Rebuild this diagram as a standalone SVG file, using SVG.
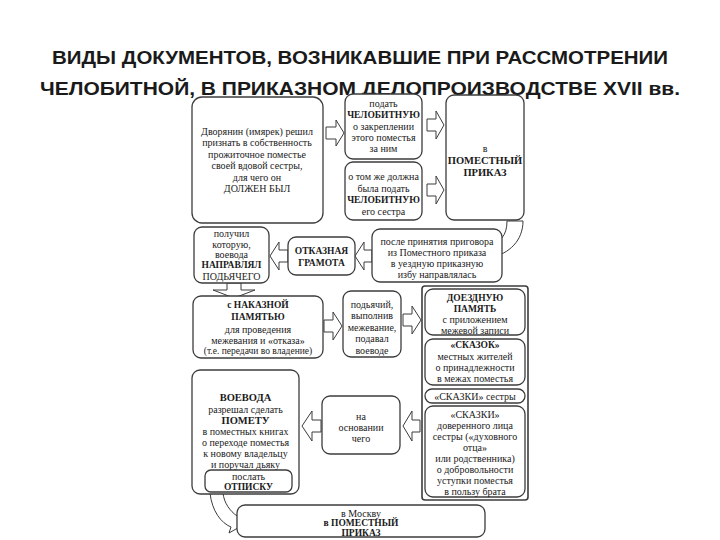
<svg xmlns="http://www.w3.org/2000/svg" width="720" height="540" viewBox="0 0 720 540">
<style>
.bg{fill:#fff}
.title{font-family:"Liberation Sans","DejaVu Sans",sans-serif;font-weight:bold;font-size:19px;fill:#1a1a1a;text-anchor:middle}
.b{fill:#fff;stroke:#3c3c3c;stroke-width:1.3}
.fr{fill:#fff;stroke:#3c3c3c;stroke-width:1.6}
.t{font-family:'Liberation Serif','DejaVu Serif',serif;font-size:10px;fill:#1a1a1a;text-anchor:middle;dominant-baseline:central}
.s{font-size:9.5px}
.k{font-weight:bold;font-size:9.5px}
.big{font-weight:bold;font-size:10.5px}
.ar{fill:#fff;stroke:#3c3c3c;stroke-width:1}
</style>
<rect class="bg" x="0" y="0" width="720" height="540"/>
<g id="title">
<text class="title" x="360" y="64" textLength="616" lengthAdjust="spacingAndGlyphs">ВИДЫ ДОКУМЕНТОВ, ВОЗНИКАВШИЕ ПРИ РАССМОТРЕНИИ</text>
<text class="title" x="360" y="95" textLength="640" lengthAdjust="spacingAndGlyphs">ЧЕЛОБИТНОЙ, В ПРИКАЗНОМ ДЕЛОПРОИЗВОДСТВЕ XVII вв.</text>
</g>
<g id="connectors">
<polygon class="ar" points="326,127 336,127 336,120 344,133 336,146 336,139 326,139"/>
<polygon class="ar" points="427,119 436,119 436,111 444,125 436,139 436,131 427,131"/>
<polygon class="ar" points="427,184 436,184 436,176 444,190 436,204 436,196 427,196"/>
<path class="ar" d="M507 221 C507 236 500 243 486 247 L488 240 L467 254 L490 265 L489 258 C510 254 523 240 523 221 Z"/>
<polygon class="ar" points="372,250 364,250 364,242 355,256 364,270 364,262 372,262"/>
<polygon class="ar" points="288,250 279,250 279,242 270,256 279,270 279,262 288,262"/>
<polygon class="ar" points="227,283 227,290 213,290 234,298 255,290 241,290 241,283"/>
<polygon class="ar" points="324,320 333,320 333,312 342,326 333,340 333,332 324,332"/>
<polygon class="ar" points="403,314 412,314 412,306 421,320 412,334 412,326 403,326"/>
<polygon class="ar" points="420,420 412,420 412,411 403,426 412,441 412,432 420,432"/>
<polygon class="ar" points="321,420 312,420 312,411 302,426 312,441 312,432 321,432"/>
<path class="ar" d="M210 493 C212 511 221 523 231 527 L229 533 L250 521 L239 510 L237 516 C230 511 224 503 223 493 Z"/>
</g>
<g font-family="Liberation Serif, DejaVu Serif, serif">
<g id="n-dvoryanin">
<rect class="b" x="192" y="97" width="131" height="126" rx="10"/>
<text class="t" x="257" y="131">Дворянин (имярек) решил</text>
<text class="t" x="257" y="142.5">признать в собственность</text>
<text class="t" x="257" y="154">прожиточное поместье</text>
<text class="t" x="257" y="165.5">своей вдовой сестры,</text>
<text class="t" x="257" y="177">для чего он</text>
<text class="t" x="257" y="188.5">ДОЛЖЕН БЫЛ</text>
</g>
<g id="n-podat">
<rect class="b" x="345" y="94" width="77" height="65" rx="8"/>
<text class="t" x="383.5" y="103">подать</text>
<text class="t k" x="383.5" y="114.5">ЧЕЛОБИТНУЮ</text>
<text class="t" x="383.5" y="126">о закреплении</text>
<text class="t" x="383.5" y="137">этого поместья</text>
<text class="t" x="383.5" y="148">за ним</text>
</g>
<g id="n-sestra">
<rect class="b" x="345" y="162" width="77" height="58" rx="8"/>
<text class="t" x="383.5" y="176">о том же должна</text>
<text class="t" x="383.5" y="188">была подать</text>
<text class="t k" x="383.5" y="199.5">ЧЕЛОБИТНУЮ</text>
<text class="t" x="383.5" y="211">его сестра</text>
</g>
<g id="n-prikaz">
<rect class="b" x="446" y="95" width="78" height="125" rx="8"/>
<text class="t" x="485" y="148">в</text>
<text class="t big" x="485" y="160">ПОМЕСТНЫЙ</text>
<text class="t big" x="485" y="172">ПРИКАЗ</text>
</g>
<g id="n-posle">
<rect class="b" x="372" y="229" width="130" height="53" rx="8"/>
<text class="t" x="437" y="241">после принятия приговора</text>
<text class="t" x="437" y="252">из Поместного приказа</text>
<text class="t" x="437" y="263">в уездную приказную</text>
<text class="t" x="437" y="274">избу направлялась</text>
</g>
<g id="n-gramota">
<rect class="b" x="288" y="237" width="67" height="38" rx="8"/>
<text class="t k" x="321.5" y="251">ОТКАЗНАЯ</text>
<text class="t k" x="321.5" y="263">ГРАМОТА</text>
</g>
<g id="n-poluchil">
<rect class="b" x="194" y="227" width="75" height="56" rx="8"/>
<text class="t" x="231.5" y="233.5">получил</text>
<text class="t" x="231.5" y="244">которую,</text>
<text class="t" x="231.5" y="254.5">воевода</text>
<text class="t k" x="231.5" y="265">НАПРАВЛЯЛ</text>
<text class="t" x="231.5" y="276">ПОДЬЯЧЕГО</text>
</g>
<g id="n-nakaznaya">
<rect class="b" x="193" y="296" width="130" height="62" rx="8"/>
<text class="t k" x="258" y="305">с НАКАЗНОЙ</text>
<text class="t k" x="258" y="317">ПАМЯТЬЮ</text>
<text class="t" x="258" y="329">для проведения</text>
<text class="t" x="258" y="340">межевания и «отказа»</text>
<text class="t s" x="258" y="351">(т.е. передачи во владение)</text>
</g>
<g id="n-podyachiy">
<rect class="b" x="343" y="291" width="58" height="66" rx="8"/>
<text class="t" x="372" y="304">подьячий,</text>
<text class="t" x="372" y="315.5">выполнив</text>
<text class="t" x="372" y="327">межевание,</text>
<text class="t" x="372" y="338.5">подавал</text>
<text class="t" x="372" y="350">воеводе</text>
</g>
<g id="n-docs">
<rect class="fr" x="422" y="286" width="106" height="214" rx="3"/>
<rect class="b" x="425" y="289" width="100" height="46" rx="8"/>
<text class="t k" x="475" y="297.5">ДОЕЗДНУЮ</text>
<text class="t k" x="475" y="308.5">ПАМЯТЬ</text>
<text class="t" x="475" y="319.5">с приложением</text>
<text class="t" x="475" y="330">межевой записи</text>
<rect class="b" x="425" y="339" width="100" height="46" rx="8"/>
<text class="t k" x="475" y="345">«СКАЗОК»</text>
<text class="t" x="475" y="356">местных жителей</text>
<text class="t" x="475" y="367">о принадлежности</text>
<text class="t" x="475" y="378">в межах поместья</text>
<rect class="b" x="425" y="389" width="100" height="14" rx="7"/>
<text class="t" x="475" y="396">«СКАЗКИ»  сестры</text>
<rect class="b" x="425" y="406" width="100" height="91" rx="8"/>
<text class="t" x="475" y="414">«СКАЗКИ»</text>
<text class="t" x="475" y="425">доверенного лица</text>
<text class="t" x="475" y="436">сестры  («духовного</text>
<text class="t" x="475" y="447">отца»</text>
<text class="t" x="475" y="458">или родственника)</text>
<text class="t" x="475" y="469">о добровольности</text>
<text class="t" x="475" y="480">уступки поместья</text>
<text class="t" x="475" y="491">в пользу брата</text>
</g>
<g id="n-osnovanie">
<rect class="b" x="322" y="396" width="78" height="58" rx="8"/>
<text class="t" x="361" y="416">на</text>
<text class="t" x="361" y="427">основании</text>
<text class="t" x="361" y="438">чего</text>
</g>
<g id="n-voevoda">
<rect class="b" x="192" y="370" width="107" height="124" rx="8"/>
<text class="t big" x="245.5" y="397">ВОЕВОДА</text>
<text class="t" x="245.5" y="409">разрешал сделать</text>
<text class="t big" x="245.5" y="420">ПОМЕТУ</text>
<text class="t" x="245.5" y="431.5">в поместных книгах</text>
<text class="t" x="245.5" y="442.5">о переходе поместья</text>
<text class="t" x="245.5" y="453.5">к новому владельцу</text>
<text class="t" x="245.5" y="464.5">и поручал дьяку</text>
<rect class="b" x="205" y="470" width="87" height="22" rx="6"/>
<text class="t" x="248.5" y="476.5">послать</text>
<text class="t k" x="248.5" y="486.5">ОТПИСКУ</text>
</g>
<g id="n-moskva">
<rect class="b" x="237" y="505" width="248" height="32" rx="8"/>
<text class="t" x="361" y="513">в Москву</text>
<text class="t k" x="361" y="523">в ПОМЕСТНЫЙ</text>
<text class="t k" x="361" y="533">ПРИКАЗ</text>
</g>
</g>
</svg>
